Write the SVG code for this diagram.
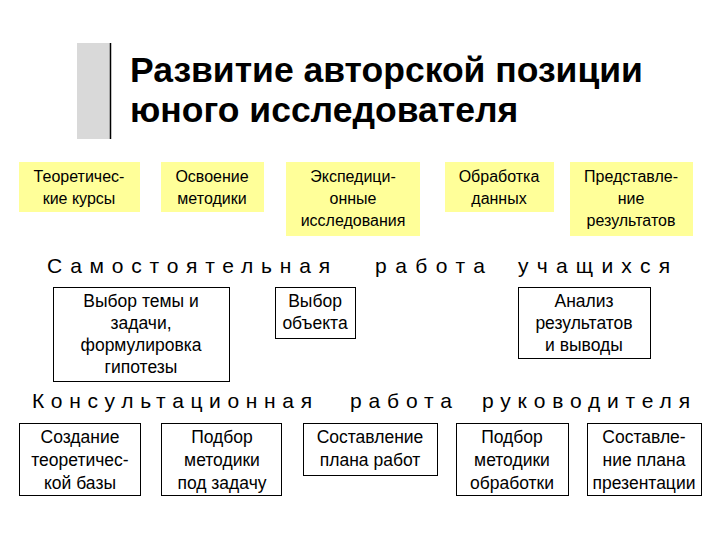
<svg xmlns="http://www.w3.org/2000/svg" width="720" height="540" viewBox="0 0 720 540">
<style>
text{font-family:"Liberation Sans",Arial,sans-serif;fill:#000}
.y{fill:#ffff99;stroke:none}
.b{fill:#fff;stroke:#000;stroke-width:1}
.t{font-size:16px;text-anchor:middle}
.u{font-size:17.5px;text-anchor:middle}
.s{font-size:21px}
</style>
<rect width="720" height="540" fill="#fff"/>
<rect x="77" y="43" width="33" height="96" fill="#d9d9d9"/>
<line x1="110.5" y1="43" x2="110.5" y2="139" stroke="#000" stroke-width="1.5"/>
<text x="130" y="82" font-size="35.5" font-weight="bold">Развитие авторской позиции</text>
<text x="130" y="122" font-size="35.5" font-weight="bold">юного исследователя</text>
<g id="n1"><rect class="y" x="19" y="162" width="121" height="50"/><text class="t" x="79" y="182">Теоретичес-</text><text class="t" x="79" y="204">кие курсы</text></g>
<g id="n2"><rect class="y" x="161" y="162" width="103" height="50"/><text class="t" x="212" y="182">Освоение</text><text class="t" x="212" y="204">методики</text></g>
<g id="n3"><rect class="y" x="286" y="162" width="134" height="74"/><text class="t" x="353" y="182">Экспедици-</text><text class="t" x="353" y="204">онные</text><text class="t" x="353" y="226">исследования</text></g>
<g id="n4"><rect class="y" x="445" y="162" width="109" height="50"/><text class="t" x="499" y="182">Обработка</text><text class="t" x="499" y="204">данных</text></g>
<g id="n5"><rect class="y" x="570" y="162" width="123" height="74"/><text class="t" x="631" y="182">Представле-</text><text class="t" x="631" y="204">ние</text><text class="t" x="631" y="226">результатов</text></g>
<text class="s" x="47" y="273" textLength="283" lengthAdjust="spacing">Самостоятельная</text>
<text class="s" x="375" y="273" textLength="110" lengthAdjust="spacing">работа</text>
<text class="s" x="518" y="273" textLength="152" lengthAdjust="spacing">учащихся</text>
<g id="n6"><rect class="b" x="53.5" y="287.5" width="176" height="94"/><text class="u" x="141" y="307">Выбор темы и</text><text class="u" x="141" y="329">задачи,</text><text class="u" x="141" y="351">формулировка</text><text class="u" x="141" y="373">гипотезы</text></g>
<g id="n7"><rect class="b" x="275.5" y="287.5" width="80" height="51"/><text class="u" x="315" y="307">Выбор</text><text class="u" x="315" y="329">объекта</text></g>
<g id="n8"><rect class="b" x="518.5" y="287.5" width="132" height="71"/><text class="u" x="584" y="307">Анализ</text><text class="u" x="584" y="329">результатов</text><text class="u" x="584" y="351">и выводы</text></g>
<text class="s" x="32" y="408" textLength="280" lengthAdjust="spacing">Консультационная</text>
<text class="s" x="350" y="408" textLength="102" lengthAdjust="spacing">работа</text>
<text class="s" x="482" y="408" textLength="208" lengthAdjust="spacing">руководителя</text>
<g id="n9"><rect class="b" x="19.5" y="423.5" width="121" height="72"/><text class="u" x="80" y="443">Создание</text><text class="u" x="80" y="466">теоретичес-</text><text class="u" x="80" y="489">кой базы</text></g>
<g id="n10"><rect class="b" x="161.5" y="423.5" width="120" height="72"/><text class="u" x="222" y="443">Подбор</text><text class="u" x="222" y="466">методики</text><text class="u" x="222" y="489">под задачу</text></g>
<g id="n11"><rect class="b" x="303.5" y="423.5" width="134" height="52"/><text class="u" x="370" y="443">Составление</text><text class="u" x="370" y="466">плана работ</text></g>
<g id="n12"><rect class="b" x="456.5" y="423.5" width="112" height="72"/><text class="u" x="512" y="443">Подбор</text><text class="u" x="512" y="466">методики</text><text class="u" x="512" y="489">обработки</text></g>
<g id="n13"><rect class="b" x="587.5" y="423.5" width="114" height="72"/><text class="u" x="644" y="443">Составле-</text><text class="u" x="644" y="466">ние плана</text><text class="u" x="644" y="489">презентации</text></g>
<g id="connectors"/>
</svg>
